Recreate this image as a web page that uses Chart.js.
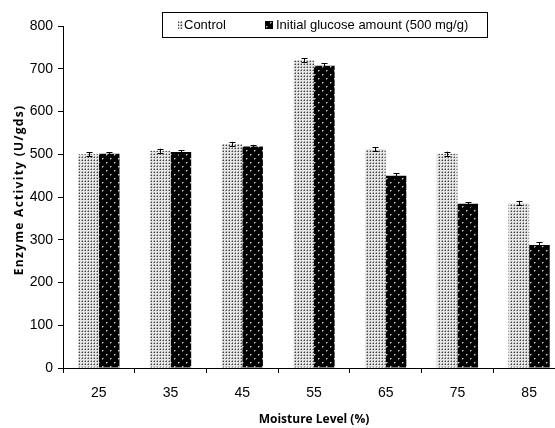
<!DOCTYPE html>
<html lang="en">
<head>
    <meta charset="UTF-8">
    <script src="https://cdn.jsdelivr.net/npm/chart.js"></script>
    <title>Enzyme Activity vs Moisture Level</title>
    <style>
        html, body {
            margin: 0;
            padding: 0;
            background: #fff;
            overflow: hidden;
        }
        .chart-container {
            width: 567px;
            height: 428px;
        }
    </style>
</head>
<body>
    <div class="chart-container">
        <canvas id="chart"></canvas>
    </div>
    <script>
        const moistureLevels = ["25", "35", "45", "55", "65", "75", "85"];
        const controlValues = [500, 508, 524, 720, 512, 501, 386];
        const controlErrors = [5, 5, 5, 4, 5, 5, 5];
        const glucoseValues = [501, 505, 518, 707, 450, 384, 288];
        const glucoseErrors = [4, 4, 4, 6, 5, 4, 6];
        const seriesLabels = ["Control", "Initial glucose amount (500 mg/g)"];

        // dotted fills, like the old office bar patterns
        function makePattern(kind) {
            let c = document.createElement("canvas");
            let g = c.getContext("2d");
            if (kind === "light") {
                c.width = 3; c.height = 3;
                g.fillStyle = "#e6e6e6";
                g.fillRect(0, 0, 3, 3);
                g.fillStyle = "#444";
                g.fillRect(1, 1, 1, 1);
                g.fillStyle = "#999";
                g.fillRect(1, 0, 1, 1);
                g.fillRect(0, 1, 1, 1);
            } else {
                c.width = 8; c.height = 8;
                g.fillStyle = "#000";
                g.fillRect(0, 0, 8, 8);
                g.fillStyle = "#c8c8c8";
                g.fillRect(2, 2, 1, 1);
                g.fillRect(6, 6, 1, 1);
                g.fillStyle = "#707070";
                g.fillRect(3, 2, 1, 1);
                g.fillRect(7, 6, 1, 1);
                g.fillRect(2, 3, 1, 1);
                g.fillRect(6, 7, 1, 1);
            }
            return document.createElement("canvas").getContext("2d").createPattern(c, "repeat");
        }

        const lightPattern = makePattern("light");
        const darkPattern = makePattern("dark");

        const errorBars = {
            id: "errorBars",
            afterDatasetsDraw(chart) {
                let ctx = chart.ctx;
                let yScale = chart.scales.y;
                ctx.save();
                ctx.strokeStyle = "#000";
                ctx.lineWidth = 1;
                chart.data.datasets.forEach((ds, i) => {
                    let meta = chart.getDatasetMeta(i);
                    meta.data.forEach((bar, j) => {
                        let v = ds.data[j];
                        let e = ds.errors[j];
                        let x = Math.round(bar.x) + 0.5;
                        let yTop = yScale.getPixelForValue(v + e);
                        let yBot = yScale.getPixelForValue(v - e);
                        ctx.beginPath();
                        ctx.moveTo(x, yTop);
                        ctx.lineTo(x, yBot);
                        ctx.moveTo(x - 3, Math.round(yTop) + 0.5);
                        ctx.lineTo(x + 3, Math.round(yTop) + 0.5);
                        ctx.moveTo(x - 3, Math.round(yBot) + 0.5);
                        ctx.lineTo(x + 3, Math.round(yBot) + 0.5);
                        ctx.stroke();
                    });
                });
                ctx.restore();
            }
        };

        const boxLegend = {
            id: "boxLegend",
            afterDraw(chart) {
                let ctx = chart.ctx;
                ctx.save();
                ctx.fillStyle = "#fff";
                ctx.fillRect(162, 12, 325, 25);
                ctx.strokeStyle = "#000";
                ctx.lineWidth = 1;
                ctx.strokeRect(162.5, 12.5, 325, 25);
                ctx.font = "13px 'Liberation Sans', Arial, sans-serif";
                ctx.textBaseline = "middle";
                ctx.fillStyle = "#000";
                let ds = chart.data.datasets;
                // control swatch is narrower than the other one
                ctx.fillStyle = ds[0].backgroundColor;
                ctx.fillRect(178, 21, 5, 8);
                ctx.fillStyle = "#000";
                ctx.fillText(ds[0].label, 184, 25);
                ctx.fillStyle = ds[1].backgroundColor;
                ctx.fillRect(265, 21, 8, 8);
                ctx.fillStyle = "#000";
                ctx.fillText(ds[1].label, 276, 25);
                ctx.restore();
            }
        };

        const yTitle = {
            id: "yTitle",
            afterDraw(chart) {
                let ctx = chart.ctx;
                ctx.save();
                ctx.translate(20, 190);
                ctx.rotate(-Math.PI / 2);
                ctx.font = "bold 12px 'Open Sans', sans-serif";
                ctx.letterSpacing = "1.3px";
                ctx.textAlign = "center";
                ctx.textBaseline = "middle";
                ctx.fillStyle = "#000";
                ctx.fillText("Enzyme Activity (U/gds)", 0, 0);
                ctx.restore();
            }
        };

        let ctx = document.getElementById("chart").getContext("2d");
        new Chart(ctx, {
            type: "bar",
            data: {
                labels: moistureLevels,
                datasets: [{
                    label: seriesLabels[0],
                    data: controlValues,
                    errors: controlErrors,
                    backgroundColor: lightPattern,
                    borderWidth: 0
                }, {
                    label: seriesLabels[1],
                    data: glucoseValues,
                    errors: glucoseErrors,
                    backgroundColor: darkPattern,
                    borderWidth: 0
                }]
            },
            options: {
                responsive: true,
                maintainAspectRatio: false,
                animation: false,
                layout: {padding: {top: 26, right: 2, left: 0, bottom: 0}},
                plugins: {
                    legend: {display: false},
                    tooltip: {enabled: false}
                },
                datasets: {
                    bar: {categoryPercentage: 0.575, barPercentage: 1}
                },
                scales: {
                    x: {
                        afterFit(scale) { scale.height = 60; },
                        grid: {drawOnChartArea: false, tickLength: 5, color: "#000", offset: true},
                        border: {color: "#000", width: 1},
                        ticks: {
                            color: "#000",
                            padding: 12,
                            font: {family: "'Liberation Sans', Arial, sans-serif", size: 14}
                        },
                        title: {
                            display: true,
                            text: "Moisture Level (%)",
                            color: "#000",
                            font: {family: "'Open Sans', sans-serif", size: 12, weight: "bold"},
                            padding: {top: 0, bottom: 1}
                        }
                    },
                    y: {
                        min: 0,
                        max: 800,
                        afterFit(scale) { scale.width = 63; },
                        grid: {drawOnChartArea: false, tickLength: 5, color: "#000"},
                        border: {color: "#000", width: 1},
                        ticks: {
                            stepSize: 100,
                            color: "#000",
                            padding: 5,
                            font: {family: "'Liberation Sans', Arial, sans-serif", size: 14}
                        }
                    }
                }
            },
            plugins: [errorBars, boxLegend, yTitle]
        });
    </script>
</body>
</html>
